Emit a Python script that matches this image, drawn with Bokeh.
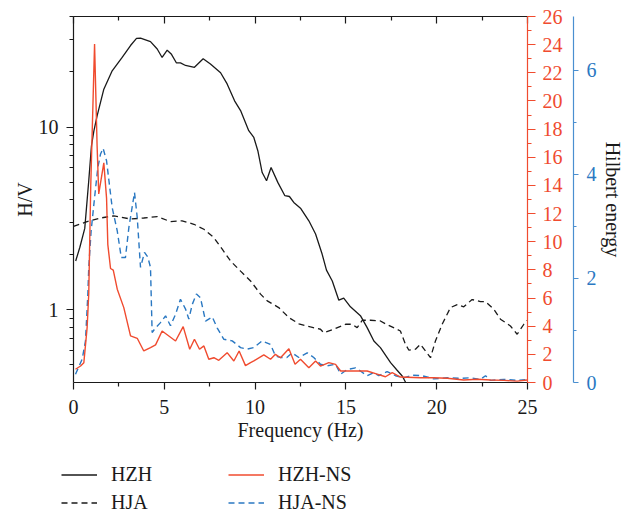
from bokeh.plotting import figure
from bokeh.layouts import column
from bokeh.models import (Range1d, LinearScale, LinearAxis, FixedTicker, Legend,
                          LegendItem, CustomJSTickFormatter)
from bokeh.embed import file_html
from bokeh.resources import INLINE

# ---------------- data ----------------
hzh_freq = [0.12, 0.35, 0.62, 0.84, 0.99, 1.12, 1.3, 1.67, 2.13, 2.68, 3.14, 3.47, 3.69,
            4.24, 4.61, 4.88, 5.16, 5.38, 5.67, 5.89, 6.17, 6.66, 7.14, 7.54, 8.1, 8.46,
            8.87, 9.2, 9.65, 9.93, 10.15, 10.39, 10.63, 10.88, 11.25, 11.64, 11.89, 12.13,
            12.5, 12.96, 13.33, 13.69, 13.93, 14.25, 14.61, 14.88, 15.25, 15.8, 16.17,
            16.54, 16.9, 17.46, 17.82, 18.1, 18.3, 18.5]
hzh_hv = [1.85, 2.2, 2.79, 5.08, 7.9, 9.5, 11.5, 16.1, 20.3, 24.0, 27.9, 30.5, 30.6,
          29.3, 26.7, 24.0, 26.3, 25.1, 22.4, 22.4, 21.7, 21.2, 23.6, 22.1, 19.8, 17.2,
          13.9, 12.3, 9.55, 8.77, 7.42, 5.64, 5.08, 6.01, 4.98, 4.21, 4.17, 3.87,
          3.6, 3.07, 2.6, 2.02, 1.65, 1.44, 1.13, 1.16, 1.04, 0.93, 0.80,
          0.676, 0.622, 0.515, 0.468, 0.435, 0.40, 0.37]

hja_freq = [0.0, 0.75, 1.49, 2.22, 3.14, 3.87, 4.61, 5.34, 5.98, 6.63, 7.18, 7.72, 8.19,
            8.65, 9.2, 9.75, 10.3, 10.67, 11.3, 11.86, 12.41, 13.05, 13.6, 13.78, 14.33,
            14.98, 15.35, 15.62, 15.9, 16.35, 16.9, 17.18, 18.0, 18.28, 18.47, 18.83,
            19.1, 19.38, 19.66, 19.93, 20.3, 20.76, 21.13, 21.49, 21.95, 22.41, 22.69,
            23.14, 23.51, 24.06, 24.43, 24.8, 25.0]
hja_hv = [2.86, 3.04, 3.18, 3.27, 3.14, 3.18, 3.24, 3.04, 3.07, 2.94, 2.76, 2.49, 2.15,
          1.85, 1.63, 1.44, 1.22, 1.12, 1.03, 0.908, 0.84, 0.807, 0.784, 0.75, 0.784,
          0.835, 0.835, 0.80, 0.878, 0.878, 0.87, 0.84, 0.767, 0.649, 0.602, 0.61,
          0.649, 0.597, 0.548, 0.676, 0.835, 1.03, 1.07, 1.04, 1.14, 1.11, 1.11,
          1.01, 0.89, 0.817, 0.736, 0.835, 0.878]

hzhns_freq = [0.11, 0.39, 0.57, 0.75, 0.84, 0.95, 1.16, 1.3, 1.39, 1.67, 1.82, 1.89, 2.04,
              2.19, 2.41, 2.77, 3.14, 3.51, 3.87, 4.24, 4.52, 4.88, 5.62, 6.04, 6.4,
              6.66, 6.94, 7.18, 7.45, 7.73, 8.0, 8.46, 8.83, 9.12, 9.47, 9.75, 9.93,
              10.48, 10.85, 11.12, 11.4, 11.86, 12.2, 12.5, 12.96, 13.33, 13.6, 14.06,
              14.43, 14.71, 15.44, 16.17, 16.72, 17.18, 17.55, 18.0, 19.1, 19.84, 20.58,
              21.49, 22.23, 22.96, 23.7, 24.43, 25.0]
hzhns_val = [0.94, 1.17, 1.41, 3.9, 6.3, 14.0, 24.05, 16.8, 13.4, 15.6, 13.1, 9.8, 8.1,
             7.98, 6.63, 5.32, 3.31, 3.14, 2.24, 2.48, 2.67, 3.66, 2.95, 3.97, 2.36,
             3.07, 2.36, 2.6, 1.65, 1.76, 1.58, 2.12, 1.53, 2.24, 1.2, 1.41, 1.53,
             1.96, 1.65, 2.0, 1.76, 2.4, 1.3, 1.65, 1.05, 1.53, 1.17, 1.41,
             1.29, 0.82, 0.82, 0.82, 0.6, 0.41, 0.7, 0.39, 0.34, 0.34, 0.3,
             0.18, 0.23, 0.18, 0.15, 0.1, 0.18]

hjans_freq = [0.11, 0.48, 0.66, 0.79, 0.84, 0.97, 1.16, 1.34, 1.49, 1.63, 1.82, 1.95, 2.13,
              2.41, 2.63, 2.86, 3.05, 3.36, 3.51, 3.69, 3.91, 4.09, 4.24, 4.33, 4.52,
              4.79, 5.07, 5.34, 5.62, 5.89, 6.17, 6.35, 6.54, 6.77, 6.99, 7.27, 7.64,
              7.91, 8.28, 8.74, 9.2, 9.56, 9.93, 10.39, 10.85, 11.12, 11.4, 11.75,
              12.04, 12.41, 12.87, 13.23, 13.6, 13.96, 14.43, 14.71, 15.07, 15.53, 15.8,
              16.17, 16.54, 16.81, 17.27, 17.73, 18.19, 18.65, 19.2, 19.84, 20.58,
              21.31, 21.86, 22.41, 22.69, 22.96, 23.7, 24.43, 25.0]
hjans_val = [0.16, 0.45, 0.8, 1.7, 2.21, 2.91, 3.55, 4.13, 4.39, 4.5, 4.26, 3.88, 3.36,
             2.91, 2.4, 2.4, 2.98, 3.65, 3.17, 2.21, 2.5, 2.41, 2.21, 0.96, 1.05,
             1.15, 1.28, 1.09, 1.31, 1.6, 1.41, 1.22, 1.5, 1.7, 1.63, 1.18, 1.26,
             1.05, 0.83, 0.8, 0.67, 0.64, 0.67, 0.8, 0.73, 0.51, 0.48, 0.48,
             0.57, 0.48, 0.57, 0.48, 0.35, 0.32, 0.35, 0.16, 0.25, 0.28, 0.22,
             0.13, 0.19, 0.13, 0.21, 0.13, 0.09, 0.14, 0.13, 0.07, 0.09,
             0.08, 0.09, 0.06, 0.13, 0.04, 0.06, 0.04, 0.06]

x_ticks = [0, 5, 10, 15, 20, 25]
x_minor = [2.5, 7.5, 12.5, 17.5, 22.5]
hv_ticks = [1, 10]
hv_minor = [0.4, 0.5, 0.6, 0.7, 0.8, 0.9, 2, 3, 4, 5, 6, 7, 8, 9, 20, 30, 40]
red_ticks = list(range(0, 27, 2))
red_minor = list(range(1, 26, 2))
blue_ticks = [0, 2, 4, 6]
blue_minor = [1, 3, 5]

# ---------------- styling ----------------
FONT = "Liberation Serif"
FS = "20px"
BLACK = "#1a1a1a"
RED = "#F04B2F"
BLUE = "#2A78C2"
AXBLUE = "#4A8FD0"

p = figure(width=629, height=460, x_range=Range1d(0, 25), y_range=Range1d(0.401, 40.2),
           y_axis_type="log", output_backend="svg", toolbar_location=None,
           min_border_left=73, min_border_right=102, min_border_top=16, min_border_bottom=78)
p.outline_line_color = None
p.xgrid.visible = False
p.ygrid.visible = False

p.extra_y_ranges = {"red": Range1d(0, 26), "blue": Range1d(0, 7.03)}
p.extra_y_scales = {"red": LinearScale(), "blue": LinearScale()}


def style_axis(ax, color):
    ax.axis_line_color = color
    ax.major_tick_line_color = color
    ax.minor_tick_line_color = color
    ax.major_label_text_color = color
    ax.major_label_text_font = FONT
    ax.major_label_text_font_size = FS
    ax.axis_label_text_font = FONT
    ax.axis_label_text_font_size = FS
    ax.axis_label_text_font_style = "normal"
    ax.axis_label_text_color = BLACK
    ax.axis_line_width = 1.2
    ax.major_tick_line_width = 1.2
    ax.minor_tick_line_width = 1.2


# bottom axis
xa = p.xaxis[0]
style_axis(xa, BLACK)
xa.ticker = FixedTicker(ticks=x_ticks, minor_ticks=x_minor)
xa.major_tick_in = 0
xa.major_tick_out = 7
xa.minor_tick_in = 0
xa.minor_tick_out = 4
xa.major_label_standoff = 10
xa.axis_label = "Frequency (Hz)"
xa.axis_label_standoff = 2

# top mirror axis (ticks only)
ta = LinearAxis(ticker=FixedTicker(ticks=x_ticks, minor_ticks=x_minor),
                formatter=CustomJSTickFormatter(code="return ''"))
style_axis(ta, BLACK)
ta.major_tick_in = 7
ta.major_tick_out = 0
ta.minor_tick_in = 4
ta.minor_tick_out = 0
ta.major_label_standoff = 0
ta.major_label_text_font_size = "1px"
p.add_layout(ta, "above")

# left log axis
ya = p.yaxis[0]
style_axis(ya, BLACK)
ya.ticker = FixedTicker(ticks=hv_ticks, minor_ticks=hv_minor)
ya.formatter = CustomJSTickFormatter(code="return String(tick)")
ya.major_tick_in = 0
ya.major_tick_out = 7
ya.minor_tick_in = 0
ya.minor_tick_out = 4
ya.major_label_standoff = 8
ya.axis_label = "H/V"
ya.axis_label_standoff = 0

# red right axis
ra = LinearAxis(y_range_name="red", ticker=FixedTicker(ticks=red_ticks, minor_ticks=red_minor))
style_axis(ra, RED)
ra.major_tick_in = 0
ra.major_tick_out = 8
ra.minor_tick_in = 0
ra.minor_tick_out = 4
ra.major_label_standoff = 7
ra.axis_label = " "
ra.axis_label_text_font_size = "5px"
ra.axis_label_standoff = 0
p.add_layout(ra, "right")

# blue right axis
ba = LinearAxis(y_range_name="blue", ticker=FixedTicker(ticks=blue_ticks, minor_ticks=blue_minor))
style_axis(ba, AXBLUE)
ba.major_label_text_color = BLUE
ba.major_tick_in = 0
ba.major_tick_out = 5
ba.minor_tick_in = 0
ba.minor_tick_out = 3
ba.major_label_standoff = 8
ba.axis_label = "Hilbert energy"
ba.axis_label_standoff = 2
p.add_layout(ba, "right")

# ---------------- lines ----------------
r_hja = p.line(hja_freq, hja_hv, line_color=BLACK, line_width=1.3, line_dash="6 4")
r_hjans = p.line(hjans_freq, hjans_val, line_color=BLUE, line_width=1.4, line_dash="6 4",
                 y_range_name="blue")
r_hzh = p.line(hzh_freq, hzh_hv, line_color=BLACK, line_width=1.3)
r_hzhns = p.line(hzhns_freq, hzhns_val, line_color=RED, line_width=1.4, y_range_name="red")

# ---------------- legend strip below ----------------
leg = figure(width=629, height=57, x_range=Range1d(0, 1), y_range=Range1d(0, 1),
             output_backend="svg", toolbar_location=None, min_border=0,
             x_axis_location=None, y_axis_location=None)
try:
    leg.frame_align = False
except Exception:
    pass
leg.outline_line_color = None
leg.xgrid.visible = False
leg.ygrid.visible = False
nan = float("nan")
l_hzh = leg.line([nan, nan], [nan, nan], line_color=BLACK, line_width=1.3)
l_hja = leg.line([nan, nan], [nan, nan], line_color=BLACK, line_width=1.3, line_dash="6 4")
l_hzhns = leg.line([nan, nan], [nan, nan], line_color=RED, line_width=1.4)
l_hjans = leg.line([nan, nan], [nan, nan], line_color=BLUE, line_width=1.4, line_dash="6 4")

legend = Legend(items=[LegendItem(label="HZH", renderers=[l_hzh]),
                       LegendItem(label="HJA", renderers=[l_hja]),
                       LegendItem(label="HZH-NS", renderers=[l_hzhns]),
                       LegendItem(label="HJA-NS", renderers=[l_hjans])],
                location=(61, 3), ncols=2, orientation="vertical")
legend.padding = 0
legend.margin = 0
legend.spacing = 5
legend.glyph_width = 36
legend.glyph_height = 23
legend.label_height = 23
legend.label_width = 112
legend.label_standoff = 14
legend.label_text_font = FONT
legend.label_text_font_size = FS
legend.label_text_color = BLACK
legend.border_line_color = None
legend.background_fill_alpha = 0
leg.add_layout(legend)

layout = column(p, leg, spacing=0)
open("out.html", "w").write(file_html(layout, INLINE))
